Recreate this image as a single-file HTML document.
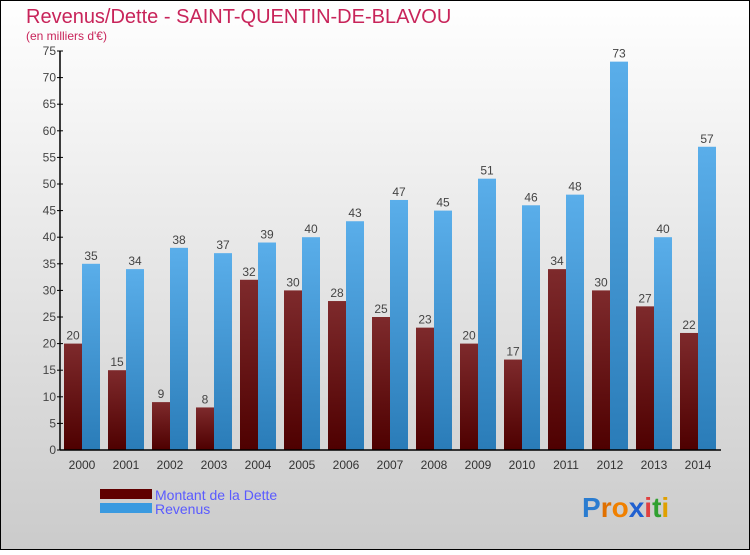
<!DOCTYPE html>
<html><head><meta charset="utf-8"><style>
body{margin:0;width:750px;height:550px;overflow:hidden;font-family:"Liberation Sans",sans-serif}
svg text{font-family:"Liberation Sans",sans-serif}
</style></head><body>
<svg id="c" width="750" height="550" xmlns="http://www.w3.org/2000/svg">
<defs>
<linearGradient id="bg" x1="0" y1="0" x2="0" y2="1"><stop offset="0" stop-color="#ffffff"/><stop offset="1" stop-color="#cbcbcb"/></linearGradient>
<linearGradient id="gd" x1="0" y1="0" x2="0" y2="1"><stop offset="0" stop-color="#7e2a2c"/><stop offset="1" stop-color="#4e0000"/></linearGradient>
<linearGradient id="gr" x1="0" y1="0" x2="0" y2="1"><stop offset="0" stop-color="#5aaeea"/><stop offset="1" stop-color="#2a7cb8"/></linearGradient>
</defs>
<rect x="0.5" y="0.5" width="749" height="549" fill="url(#bg)" stroke="#000"/>
<text x="26" y="23" font-size="20" fill="#c8245a">Revenus/Dette - SAINT-QUENTIN-DE-BLAVOU</text>
<text x="26" y="40" font-size="12" fill="#c8245a">(en milliers d'€)</text>
<g id="plot"></g>
<g>
<rect x="100" y="489" width="52" height="10" fill="#600000"/>
<text x="155" y="500" font-size="14" fill="#5a5aff">Montant de la Dette</text>
<rect x="100" y="503" width="52" height="10" fill="#3a9ae0"/>
<text x="155" y="514" font-size="14" fill="#5a5aff">Revenus</text>
</g>
<text x="582" y="517" font-size="28" font-weight="bold"><tspan fill="#2a7cd0">P</tspan><tspan fill="#e07000">r</tspan><tspan fill="#f08000">o</tspan><tspan fill="#2060d0">x</tspan><tspan fill="#e04040">i</tspan><tspan fill="#30a030">t</tspan><tspan fill="#e0a000">i</tspan></text>
</svg>
<script>
const years=["2000","2001","2002","2003","2004","2005","2006","2007","2008","2009","2010","2011","2012","2013","2014"];
const debt=[20,15,9,8,32,30,28,25,23,20,17,34,30,27,22];
const revenue=[35,34,38,37,39,40,43,47,45,51,46,48,73,40,57];
const yTicks=[0,5,10,15,20,25,30,35,40,45,50,55,60,65,70,75];
const NS="http://www.w3.org/2000/svg";
const g=document.getElementById('plot');
const y0=450,yTop=51,yMax=75;
const y=v=>y0-(v/yMax)*(y0-yTop);
const x=i=>64+i*44;
function el(t,a){const e=document.createElementNS(NS,t);for(const k in a)e.setAttribute(k,a[k]);g.appendChild(e);return e;}
years.forEach((yr,i)=>{
 let r=el('rect',{x:x(i),y:y(debt[i]),width:18,height:y0-y(debt[i]),fill:'url(#gd)'});
 
 
 let r2=el('rect',{x:x(i)+18,y:y(revenue[i]),width:18,height:y0-y(revenue[i]),fill:'url(#gr)'});
 
 
 let t=el('text',{x:x(i)+9,y:y(debt[i])-4,'font-size':12,fill:'#444','text-anchor':'middle'});t.textContent=debt[i];
 
 
 let t2=el('text',{x:x(i)+27,y:y(revenue[i])-4,'font-size':12,fill:'#444','text-anchor':'middle'});t2.textContent=revenue[i];
 
 
 let xl=el('text',{x:x(i)+18,y:469,'font-size':12,fill:'#333','text-anchor':'middle'});xl.textContent=yr;
 
 
});
yTicks.forEach(v=>{
 let l=el('line',{x1:57,x2:63,y1:y(v),y2:y(v),stroke:'#000'});
 
 
 let t=el('text',{x:56,y:y(v)+4,'font-size':12,fill:'#444','text-anchor':'end'});t.textContent=v;
 
 
});
let ya=el('line',{x1:60,x2:60,y1:yTop,y2:y0,stroke:'#000','stroke-width':1.5});


let xa=el('line',{x1:60,x2:721,y1:y0,y2:y0,stroke:'#000','stroke-width':1.5});


</script>
</body></html>
